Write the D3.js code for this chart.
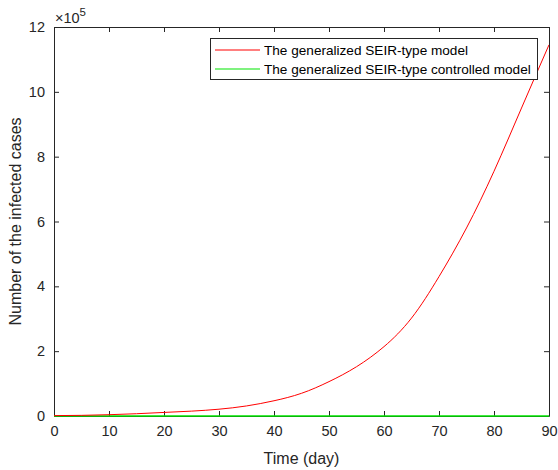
<!DOCTYPE html>
<html>
<head>
<meta charset="utf-8">
<script src="https://cdn.jsdelivr.net/npm/d3@7"></script>
<style>
  html, body { margin: 0; padding: 0; background: #fff; }
  svg { display: block; font-family: "Liberation Sans", Arial, sans-serif; }
</style>
</head>
<body>
<svg id="chart" width="558" height="470"></svg>
<script>
// Time axis (days) and infected-case counts in units of 1e5
const days = [0, 5, 10, 15, 20, 25, 30, 35, 40, 45, 50, 55, 60, 65, 70, 75, 80, 85, 90];
const seirCases = [0.012, 0.02, 0.04, 0.07, 0.11, 0.15, 0.21, 0.31, 0.47, 0.70, 1.06, 1.52, 2.14, 3.02, 4.3, 5.8, 7.55, 9.5, 11.45];
const controlledCases = [0.001, 0.001, 0.001, 0.001, 0.001, 0.001, 0.001, 0.001, 0.001, 0.001, 0.001, 0.001, 0.001, 0.001, 0.001, 0.001, 0.001, 0.001, 0.001];
const xTicks = [0, 10, 20, 30, 40, 50, 60, 70, 80, 90];
const yTicks = [0, 2, 4, 6, 8, 10, 12];
const seriesNames = ["The generalized SEIR-type model", "The generalized SEIR-type controlled model"];
const seriesColors = ["#ff0000", "#00e600"];

const svg = d3.select("#chart");
const plotLeft = 54, plotRight = 549, plotTop = 27, plotBottom = 416;
const axisColor = "#262626";

const x = d3.scaleLinear().domain([0, 90]).range([plotLeft, plotRight]);
const y = d3.scaleLinear().domain([0, 12]).range([plotBottom, plotTop]);

svg.append("defs").append("clipPath").attr("id", "plotClip")
  .append("rect").attr("x", plotLeft).attr("y", plotTop - 1)
  .attr("width", plotRight - plotLeft).attr("height", plotBottom - plotTop + 2);

// Bottom and left axes with labels; top and right carry mirrored ticks
const xAxis = svg.append("g").attr("transform", `translate(0,${plotBottom})`)
  .call(d3.axisBottom(x).tickValues(xTicks).tickSizeInner(-5).tickSizeOuter(0).tickPadding(10));
const yAxis = svg.append("g").attr("transform", `translate(${plotLeft},0)`)
  .call(d3.axisLeft(y).tickValues(yTicks).tickSizeInner(-5).tickSizeOuter(0).tickPadding(9));
const xTop = svg.append("g").attr("transform", `translate(0,${plotTop})`)
  .call(d3.axisTop(x).tickValues(xTicks).tickSizeInner(-5).tickSizeOuter(0).tickFormat(""));
const yRight = svg.append("g").attr("transform", `translate(${plotRight},0)`)
  .call(d3.axisRight(y).tickValues(yTicks).tickSizeInner(-5).tickSizeOuter(0).tickFormat(""));

[xAxis, yAxis, xTop, yRight].forEach(g => {
  g.select(".domain").attr("stroke", axisColor).attr("stroke-width", 1);
  g.selectAll(".tick line").attr("stroke", axisColor);
  g.selectAll(".tick text").attr("fill", axisColor).attr("font-size", 14.5)
    .attr("font-family", "Liberation Sans, Arial, sans-serif");
});

// Exponent label for the y axis
const expo = svg.append("text").attr("x", plotLeft + 1).attr("y", 23).attr("fill", axisColor)
  .attr("font-size", 14.5);
expo.append("tspan").text("\u00d710");
expo.append("tspan").attr("dy", -7).attr("font-size", 11.5).text("5");

// Series lines
const line = d3.line().x((d, i) => x(days[i])).y(d => y(d)).curve(d3.curveNatural);
const plot = svg.append("g").attr("clip-path", "url(#plotClip)");
plot.append("path").datum(controlledCases).attr("d", line)
  .attr("fill", "none").attr("stroke", seriesColors[1]).attr("stroke-width", 1.6);
plot.append("path").datum(seirCases).attr("d", line)
  .attr("fill", "none").attr("stroke", seriesColors[0]).attr("stroke-width", 1);

// Axis titles
svg.append("text").attr("x", (plotLeft + plotRight) / 2).attr("y", 464).attr("text-anchor", "middle")
  .attr("fill", axisColor).attr("font-size", 16).text("Time (day)");
svg.append("text").attr("transform", `translate(21,${(plotTop + plotBottom) / 2}) rotate(-90)`)
  .attr("text-anchor", "middle").attr("fill", axisColor).attr("font-size", 16)
  .text("Number of the infected cases");

// Legend
const legend = svg.append("g");
legend.append("rect").attr("x", 210.5).attr("y", 38.5).attr("width", 327).attr("height", 41)
  .attr("fill", "#fff").attr("stroke", "#262626").attr("stroke-width", 1);
seriesNames.forEach((name, i) => {
  const yy = 50 + i * 19;
  legend.append("line").attr("x1", 215).attr("x2", 260).attr("y1", yy).attr("y2", yy)
    .attr("stroke", seriesColors[i]).attr("stroke-width", 1.2);
  legend.append("text").attr("x", 264).attr("y", yy + 5).attr("font-size", 13.6)
    .attr("fill", "#000").text(name);
});
</script>
</body>
</html>
